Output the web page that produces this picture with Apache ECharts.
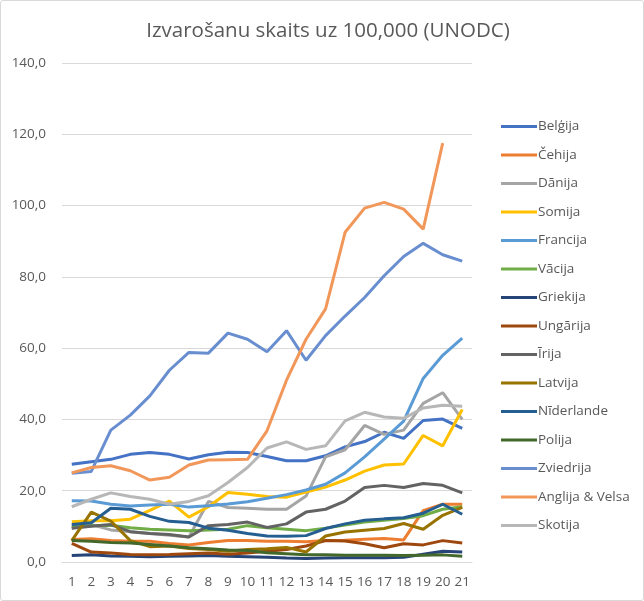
<!DOCTYPE html>
<html>
<head>
<meta charset="utf-8">
<script src="https://cdn.jsdelivr.net/npm/echarts@6/dist/echarts.min.js"></script>
<style>
html,body{margin:0;padding:0;background:#fff;}
#wrap{position:absolute;left:0;top:0;width:642px;height:599px;border:1px solid #d9d9d9;border-radius:3px;}
#chart{width:642px;height:599px;}
</style>
</head>
<body>
<div id="wrap"><div id="chart"></div></div>
<script>
const categories = ['1','2','3','4','5','6','7','8','9','10','11','12','13','14','15','16','17','18','19','20','21'];

const belgija    = [27.4,28.1,28.8,30.2,30.7,30.2,28.9,30.1,30.8,30.7,29.6,28.4,28.4,29.8,32.3,33.8,36.4,34.7,39.7,40.1,37.5];
const cehija     = [6.3,6.5,6.0,5.8,5.8,5.2,4.8,5.5,6.0,6.0,5.8,5.8,5.7,6.0,6.1,6.4,6.6,6.2,14.4,16.2,16.2];
const danija     = [9.5,10.5,9.0,8.5,8.0,7.5,7.0,17.0,15.3,15.1,14.8,14.8,18.5,29.5,31.5,38.3,35.8,37.0,44.5,47.5,40.0];
const somija     = [11.3,11.6,11.6,12.0,14.5,17.1,12.6,15.5,19.5,19.0,18.4,18.2,19.6,21.0,23.0,25.5,27.2,27.5,35.5,32.6,42.8];
const francija   = [17.2,17.1,16.2,15.7,16.0,16.2,15.4,15.8,16.3,16.9,17.9,18.9,20.2,21.8,25.0,29.5,34.5,39.5,51.5,58.0,62.8];
const vacija     = [10.0,10.2,10.3,9.6,9.2,9.0,8.8,9.0,9.2,10.2,9.6,9.2,8.8,9.5,10.4,11.2,11.7,12.2,13.0,14.8,15.5];
const griekija   = [1.8,2.0,1.7,1.6,1.5,1.6,1.7,1.8,1.6,1.5,1.3,1.1,1.0,1.1,1.2,1.2,1.2,1.3,2.2,3.0,2.8];
const ungarija   = [5.2,2.8,2.5,2.1,2.0,2.1,2.3,2.5,2.2,2.5,3.0,3.5,4.5,6.0,5.9,5.1,4.0,5.1,4.8,6.0,5.3];
const irija      = [9.5,10.0,10.5,8.5,8.0,7.7,7.0,10.2,10.5,11.2,9.7,10.7,14.0,14.8,17.1,20.9,21.5,20.9,22.0,21.5,19.4];
const latvija    = [6.0,14.0,11.5,6.0,4.3,4.5,3.8,3.5,3.0,3.5,3.7,4.1,2.8,7.3,8.4,8.9,9.4,10.8,9.2,13.1,15.3];
const niderlande = [10.5,11.0,15.1,14.8,12.8,11.4,11.1,9.5,8.9,8.0,7.3,7.2,7.4,9.4,10.7,11.7,12.1,12.4,13.7,16.2,13.4];
const polija     = [6.0,5.8,5.5,5.3,4.9,4.5,4.0,3.7,3.4,3.2,2.6,2.3,2.0,2.0,1.9,1.9,1.9,1.8,1.9,2.0,1.6];
const zviedrija  = [24.9,25.4,37.0,41.2,46.6,53.8,58.8,58.6,64.2,62.5,59.0,64.9,56.6,63.5,69.0,74.2,80.3,85.7,89.4,86.2,84.4];
const anglija    = [25.0,26.5,27.0,25.6,23.0,23.8,27.2,28.6,28.7,28.8,36.8,51.0,62.5,71.0,92.5,99.3,100.9,99.0,93.4,117.5,null];
const skotija    = [15.5,17.6,19.4,18.4,17.6,16.2,17.0,18.6,22.3,26.5,32.0,33.7,31.6,32.6,39.6,42.0,40.7,40.3,43.2,44.0,43.7];

const seriesNames = ['Belģija','Čehija','Dānija','Somija','Francija','Vācija','Griekija','Ungārija','Īrija','Latvija','Nīderlande','Polija','Zviedrija','Anglija & Velsa','Skotija'];
const seriesData = [belgija,cehija,danija,somija,francija,vacija,griekija,ungarija,irija,latvija,niderlande,polija,zviedrija,anglija,skotija];
const colors = ['#4472C4','#ED7D31','#A5A5A5','#FFC000','#5B9BD5','#70AD47','#264478','#9E480E','#636363','#997300','#255E91','#43682B','#698ED0','#F1975A','#B7B7B7'];

const yMin = 0, yMax = 140, yStep = 20;

const chart = echarts.init(document.getElementById('chart'), null, {renderer:'canvas'});
const font = '"Open Sans", "Liberation Sans", sans-serif';
chart.setOption({
  animation:false,
  color: colors,
  title:{
    text:'Izvarošanu skaits uz 100,000 (UNODC)',
    left:322, top:15, textAlign:'center',
    textStyle:{fontFamily:font, fontSize:20.5, fontWeight:'normal', color:'#595959'}
  },
  legend:{
    orient:'vertical', left:495, top:113.5,
    icon:'rect',
    itemWidth:36, itemHeight:3, itemGap:14.5,
    textStyle:{fontFamily:font, fontSize:13.5, lineHeight:14, color:'#595959', padding:[0,0,0,-4]},
    data: seriesNames
  },
  grid:{left:61, right:171, top:62, bottom:38, containLabel:false},
  xAxis:{
    type:'category', data:categories, boundaryGap:true,
    axisLine:{show:true, lineStyle:{color:'#d9d9d9'}},
    axisTick:{show:false},
    axisLabel:{fontFamily:font, fontSize:13.5, color:'#595959', margin:13, interval:0}
  },
  yAxis:{
    type:'value', min:yMin, max:yMax, interval:yStep,
    axisLine:{show:false}, axisTick:{show:false},
    splitLine:{lineStyle:{color:'#d9d9d9', width:1}},
    axisLabel:{fontFamily:font, fontSize:13.5, color:'#595959', margin:16,
      formatter: v => v.toFixed(1).replace('.', ',')}
  },
  series: seriesNames.map((n,i)=>({
    name:n, type:'line', data:seriesData[i], symbol:'none',
    lineStyle:{width:3, color:colors[i]}, itemStyle:{color:colors[i]},
    connectNulls:false
  }))
});
</script>
</body>
</html>
